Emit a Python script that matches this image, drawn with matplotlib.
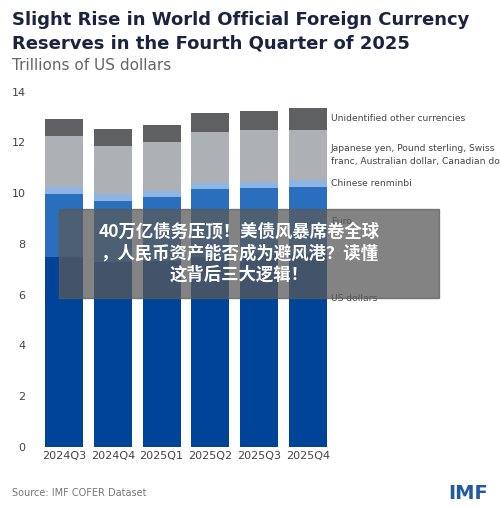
import matplotlib.pyplot as plt
import numpy as np

quarters = ['2024Q3', '2024Q4', '2025Q1', '2025Q2', '2025Q3', '2025Q4']
usd = [7.49, 7.30, 7.32, 7.50, 7.55, 7.60]
euro_top = [9.95, 9.69, 9.83, 10.16, 10.21, 10.25]
rmb_top = [10.23, 9.95, 10.10, 10.41, 10.46, 10.53]
other_top = [12.27, 11.86, 12.03, 12.42, 12.49, 12.51]
total = [12.92, 12.53, 12.69, 13.15, 13.25, 13.34]

series_names = ['US dollars', 'Euro', 'Chinese renminbi',
                'Japanese yen, Pound sterling, Swiss\nfranc, Australian dollar, Canadian dollar',
                'Unidentified other currencies']
colors = ['#00449a', '#2a6fbd', '#8eb4e3', '#adb0b4', '#5f6062']

usd = np.array(usd)
tops = [usd, np.array(euro_top), np.array(rmb_top), np.array(other_top), np.array(total)]
values = [tops[0]] + [tops[i] - tops[i - 1] for i in range(1, 5)]

fig = plt.figure(figsize=(5, 5.07), dpi=100)
ax = fig.add_axes([0.09, 0.119, 0.564, 0.70])
x = np.arange(len(quarters))
bottom = np.zeros(len(quarters))
for v, c in zip(values, colors):
    ax.bar(x, v, bottom=bottom, width=0.78, color=c, linewidth=0)
    bottom += v

ax.set_xlim(-0.39, 5.39)
ax.set_ylim(0, 14)
ax.set_yticks(range(0, 15, 2))
ax.set_xticks(x, quarters)
for s in ax.spines.values():
    s.set_visible(False)
ax.tick_params(length=0, labelsize=8, colors='#444444')
ax.tick_params(axis='y', pad=14)
ax.tick_params(axis='x', pad=3)

label_y = [5.85, 8.9, 10.38, 11.5, 12.95]
for name, yv in zip(series_names, label_y):
    ax.text(5.47, yv, name, fontsize=6.6, color='#444444', va='center', ha='left',
            clip_on=False, linespacing=1.6)

fig.text(0.024, 0.978, 'Slight Rise in World Official Foreign Currency\nReserves in the Fourth Quarter of 2025',
         fontsize=13, fontweight='bold', color='#1c2340', va='top', linespacing=1.4)
fig.text(0.024, 0.87, 'Trillions of US dollars', fontsize=11, color='#666666', va='center')
fig.text(0.024, 0.027, 'Source: IMF COFER Dataset', fontsize=7, color='#777777', va='center')
fig.text(0.975, 0.027, 'IMF', fontsize=14, fontweight='bold', color='#1f5aa6', va='center', ha='right')

fig.patches.append(plt.Rectangle((0.118, 0.412), 0.76, 0.176, transform=fig.transFigure,
                                 color='#5a5a5a', alpha=0.75, zorder=5))
fig.text(0.478, 0.5, '40万亿债务压顶！美债风暴席卷全球\n，人民币资产能否成为避风港？读懂\n这背后三大逻辑！',
         fontsize=12.5, fontweight='bold', color='white', ha='center', va='center',
         family=['Noto Sans CJK SC', 'DejaVu Sans'], linespacing=1.25, zorder=6)

fig.savefig('out.png', dpi=100, facecolor='white')
